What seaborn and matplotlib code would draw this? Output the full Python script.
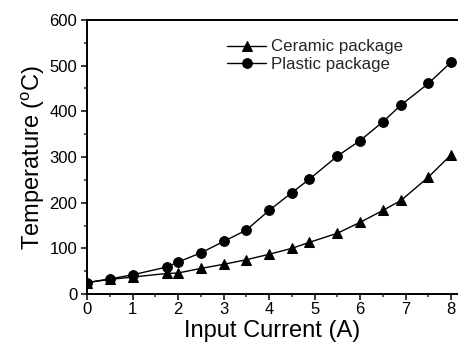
import matplotlib
matplotlib.use("Agg")
import matplotlib.pyplot as plt
import seaborn as sns
import pandas as pd
from matplotlib.ticker import MultipleLocator

current = [0, 0.5, 1, 1.75, 2, 2.5, 3, 3.5, 4, 4.5, 4.88, 5.5, 6, 6.5, 6.9, 7.5, 8]
ceramic = [25, 32, 37, 45, 46, 56, 65, 75, 87, 100, 113, 133, 157, 183, 205, 256, 305]
plastic = [25, 33, 42, 59, 70, 90, 115, 140, 183, 222, 251, 302, 336, 377, 414, 461, 508]
series_names = ["Ceramic package", "Plastic package"]

df = pd.DataFrame({
    "Input Current (A)": current * 2,
    "Temperature": ceramic + plastic,
    "Package": [series_names[0]] * len(current) + [series_names[1]] * len(current),
})

sns.set_theme(style="white")
plt.rcParams["font.family"] = ["Liberation Sans", "DejaVu Sans"]
plt.rcParams["mathtext.fontset"] = "custom"
plt.rcParams["mathtext.rm"] = "Liberation Sans"
plt.rcParams["mathtext.it"] = "Liberation Sans"

fig = plt.figure(figsize=(4.58, 3.44), dpi=100)
ax = fig.add_axes([87 / 458, 50 / 344, 1 - 87 / 458, 274 / 344])

sns.lineplot(data=df, x="Input Current (A)", y="Temperature", hue="Package",
             style="Package", markers={series_names[0]: "^", series_names[1]: "o"},
             dashes=False, palette=["black", "black"], linewidth=1.0,
             markersize=7, markeredgecolor="black", ax=ax, legend=True)

ax.set_xlim(0, 8.15)
ax.set_ylim(0, 600)
ax.xaxis.set_major_locator(MultipleLocator(1))
ax.xaxis.set_minor_locator(MultipleLocator(0.5))
ax.yaxis.set_major_locator(MultipleLocator(100))
ax.yaxis.set_minor_locator(MultipleLocator(50))
ax.tick_params(axis="both", which="major", direction="out", length=4.5, width=1.1,
               labelsize=12, colors="black", bottom=True, left=True)
ax.tick_params(axis="x", which="major", pad=1.5)
ax.tick_params(axis="y", which="major", pad=2.5)
ax.tick_params(axis="both", which="minor", direction="out", length=2.3, width=1.1,
               bottom=True, left=True)
for s in ["left", "bottom", "top"]:
    ax.spines[s].set_visible(True)
    ax.spines[s].set_color("black")
    ax.spines[s].set_linewidth(1.4)
ax.spines["right"].set_visible(False)

ax.set_xlabel("Input Current (A)", fontsize=17, color="black", labelpad=2)
ax.set_ylabel(r"Temperature ($^{\mathrm{o}}$C)", fontsize=17, color="black", labelpad=2)

leg = ax.legend(frameon=False, fontsize=12.2, loc="upper left",
                bbox_to_anchor=(0.355, 0.96), handlelength=2.3, handletextpad=0.3,
                labelspacing=0.15, borderpad=0)

fig.savefig("out.png", dpi=100)
